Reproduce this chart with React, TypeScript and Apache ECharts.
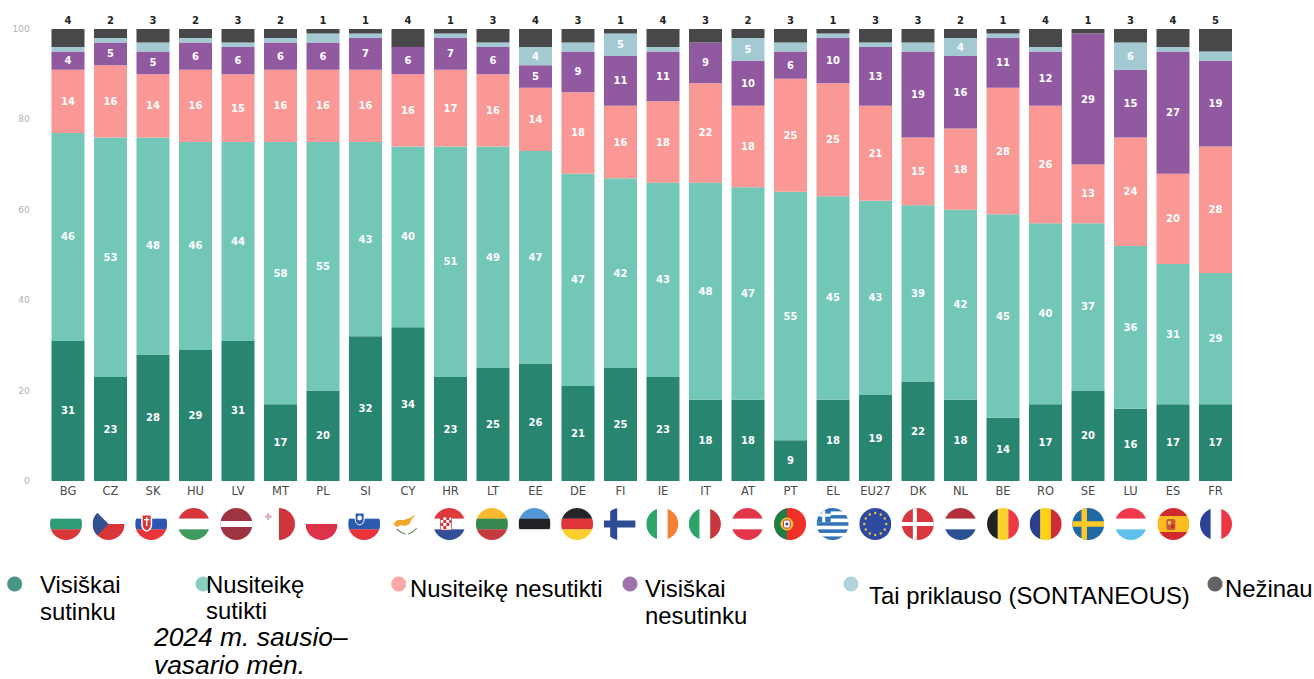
import React, { useEffect, useRef } from "react";
import * as echarts from "echarts";

const categories = ["BG","CZ","SK","HU","LV","MT","PL","SI","CY","HR","LT","EE","DE","FI","IE","IT","AT","PT","EL","EU27","DK","NL","BE","RO","SE","LU","ES","FR"];
const stronglyAgree = [31,23,28,29,31,17,20,32,34,23,25,26,21,25,23,18,18,9,18,19,22,18,14,17,20,16,17,17];
const agree = [46,53,48,46,44,58,55,43,40,51,49,47,47,42,43,48,47,55,45,43,39,42,45,40,37,36,31,29];
const disagree = [14,16,14,16,15,16,16,16,16,17,16,14,18,16,18,22,18,25,25,21,15,18,28,26,13,24,20,28];
const stronglyDisagree = [4,5,5,6,6,6,6,7,6,7,6,5,9,11,11,9,10,6,10,13,19,16,11,12,29,15,27,19];
const depends = [1,1,2,1,1,1,2,1,0,1,1,4,2,5,1,0,5,2,1,1,2,4,1,1,0,6,1,2];
const dontKnow = [4,2,3,2,3,2,1,1,4,1,3,4,3,1,4,3,2,3,1,3,3,2,1,4,1,3,4,5];

const seriesNames = ["Visiškai sutinku","Nusiteikę sutikti","Nusiteikę nesutikti","Visiškai nesutinku","Tai priklauso (SONTANEOUS)","Nežinau"];
const seriesColors = ["#28856f","#73c7b7","#fa9896","#9159a0","#a3cad3","#48484a"];
const yTicks = [0,20,40,60,80,100];

const FONT = "'DejaVu Sans', sans-serif";
const LEGEND_FONT = "'Liberation Sans', Arial, sans-serif";

const h = (...c: string[]) => c.map((col, i) => `<rect x="0" y="${(i * 32) / c.length}" width="32" height="${32 / c.length + 0.2}" fill="${col}"/>`).join("");
const v = (...c: string[]) => c.map((col, i) => `<rect x="${(i * 32) / c.length}" y="0" width="${32 / c.length + 0.2}" height="32" fill="${col}"/>`).join("");
const cross = (bg: string, fg: string, cx: number, w: number) => `<rect width="32" height="32" fill="${bg}"/><rect x="${cx - w / 2}" width="${w}" height="32" fill="${fg}"/><rect y="${16 - w / 2}" width="32" height="${w}" fill="${fg}"/>`;
const euStars = Array.from({ length: 12 }, (_, i) => {
  const a = (i * Math.PI) / 6;
  return `<circle cx="${16 + 11 * Math.cos(a)}" cy="${16 + 11 * Math.sin(a)}" r="1.2" fill="#e8c840"/>`;
}).join("");
const elStripes = Array.from({ length: 9 }, (_, i) => `<rect y="${(i * 32) / 9}" width="32" height="${32 / 9 + 0.1}" fill="${i % 2 ? "#fff" : "#2f74b8"}"/>`).join("");

const flags: Record<string, string> = {
  BG: h("#fff", "#2f9c77", "#d8373a"),
  CZ: `${h("#fff", "#d8373a")}<polygon points="0,0 16,16 0,32" fill="#33508f"/>`,
  SK: `${h("#fff", "#2d56b0", "#e8343a")}<path d="M6 6h11v11q0 5-5.5 7q-5.5-2-5.5-7z" fill="#fff"/><path d="M7.5 7.5h8v9q0 4-4 6q-4-2-4-6z" fill="#d8373a"/><rect x="10.8" y="9" width="1.4" height="9" fill="#fff"/><rect x="9" y="11" width="5" height="1.3" fill="#fff"/>`,
  HU: h("#d4363c", "#fff", "#3f9a60"),
  LV: `<rect width="32" height="32" fill="#9e3342"/><rect y="13" width="32" height="6" fill="#fff"/>`,
  MT: `${v("#fff", "#d0343c")}<rect x="4" y="5" width="2.4" height="7" fill="#d8b4bc"/><rect x="1.7" y="7.3" width="7" height="2.4" fill="#d8b4bc"/>`,
  PL: h("#fff", "#dc3348"),
  SI: `${h("#fff", "#2a5bb0", "#e8343a")}<path d="M7 5h9v6q0 5-4.5 6q-4.5-1-4.5-6z" fill="#2a5bb0" stroke="#fff" stroke-width="1"/><circle cx="11.5" cy="10" r="2.4" fill="#fff"/>`,
  CY: `<rect width="32" height="32" fill="#fff"/><polygon points="3,15 7,12 13,12 19,10 24,7 25,6.5 22,10 20,13 19,16 14,18 10,17 7,19 4,18" fill="#f0a72e"/><path d="M6 21q4 4 9 5M26 20q-4 5-9 6" stroke="#6f8f5a" stroke-width="1.2" fill="none"/>`,
  HR: `${h("#e03a3e", "#fff", "#2f4f98")}<rect x="7" y="9" width="11" height="13" fill="#fff" stroke="#c03030" stroke-width=".6"/><path d="M7 9h3v3H7zM13 9h3v3h-3zM10 12h3v3h-3zM16 12h2v3h-2zM7 15h3v3H7zM13 15h3v3h-3zM10 18h3v3h-3z" fill="#d8343a"/>`,
  LT: h("#fbb92e", "#35874f", "#c43a3e"),
  EE: h("#5296d8", "#222226", "#fff"),
  DE: h("#26262a", "#e03436", "#fccf2c"),
  FI: cross("#fff", "#2c4d94", 10, 7),
  IE: v("#2ea368", "#fff", "#f58234"),
  IT: v("#2ea368", "#fff", "#c8373f"),
  AT: h("#e4354a", "#fff", "#e4354a"),
  PT: `<rect width="32" height="32" fill="#ee3127"/><rect width="12.8" height="32" fill="#1f7d46"/><circle cx="12.8" cy="16" r="6.5" fill="#f0c63a"/><rect x="9.5" y="12" width="6.6" height="8" rx="1.5" fill="#fff" stroke="#d03030"/><circle cx="12.8" cy="16" r="1.5" fill="#2c4d94"/>`,
  EL: `${elStripes}<rect width="14" height="14.2" fill="#2f74b8"/><rect x="5.5" width="3" height="14.2" fill="#fff"/><rect y="5.6" width="14" height="3" fill="#fff"/>`,
  EU27: `<rect width="32" height="32" fill="#2e49a0"/>${euStars}`,
  DK: cross("#d8373f", "#fff", 13, 4),
  NL: h("#b32f3c", "#fff", "#2c5193"),
  BE: v("#222226", "#f9d22d", "#ee3a43"),
  RO: v("#2c3f8f", "#fcd116", "#ce2d36"),
  SE: cross("#1f6aa5", "#fbc82a", 12, 5.5),
  LU: h("#ee3a4c", "#fff", "#5fc0ec"),
  ES: `${h("#cf2b2f", "#fabd1f", "#fabd1f", "#cf2b2f")}<rect x="9" y="11" width="9" height="11" rx="2" fill="#c95a35"/><rect x="10.5" y="13" width="3" height="3.5" fill="#e8c060"/><rect x="14" y="16.5" width="2.5" height="3.5" fill="#b03030"/>`,
  FR: v("#2c4393", "#fff", "#ee3445"),
};

const flagUri = (code: string) =>
  "data:image/svg+xml," +
  encodeURIComponent(
    `<svg xmlns="http://www.w3.org/2000/svg" width="32" height="32" viewBox="0 0 32 32"><defs><clipPath id="c"><circle cx="16" cy="16" r="16"/></clipPath></defs><g clip-path="url(#c)">${flags[code]}</g></svg>`
  );

const legendItems = [
  { cx: 14.7, text: "Visiškai\nsutinku", x: 40, y: 571, lh: 27 },
  { cx: 203, text: "Nusiteikę\nsutikti", x: 206, y: 572, lh: 25.5 },
  { cx: 398.7, text: "Nusiteikę nesutikti", x: 410, y: 575, lh: 27 },
  { cx: 630, text: "Visiškai\nnesutinku", x: 645, y: 575, lh: 27 },
  { cx: 851, text: "Tai priklauso (SONTANEOUS)", x: 869, y: 582, lh: 27 },
  { cx: 1215, text: "Nežinau", x: 1225, y: 575, lh: 27 },
];
const noteText = "2024 m. sausio–\nvasario mėn.";

export default function App() {
  const ref = useRef<HTMLDivElement>(null);
  useEffect(() => {
    const chart = echarts.init(ref.current!, undefined, { renderer: "svg" });
    const values = [stronglyAgree, agree, disagree, stronglyDisagree, depends, dontKnow];
    chart.setOption({
      animation: false,
      backgroundColor: "#fff",
      grid: [
        { left: 46.75, top: 29, width: 1190, height: 452 },
        { left: 44.7, top: 508, width: 1192.6, height: 32 },
      ],
      xAxis: [
        {
          type: "category",
          data: categories,
          gridIndex: 0,
          axisLine: { show: false },
          axisTick: { show: false },
          axisLabel: { fontFamily: FONT, fontSize: 11.5, color: "#4a4a4a", margin: 4, interval: 0 },
        },
        { type: "category", data: categories, gridIndex: 1, show: false },
      ],
      yAxis: [
        {
          type: "value",
          min: 0,
          max: 100,
          interval: 20,
          gridIndex: 0,
          axisLine: { show: false },
          axisTick: { show: false },
          splitLine: { show: false },
          axisLabel: { fontFamily: FONT, fontSize: 9, color: "#b8b2aa", margin: 17, customValues: yTicks },
        },
        { type: "value", min: 0, max: 1, gridIndex: 1, show: false },
      ],
      series: [
        ...seriesNames.map((name, i) => ({
          name,
          type: "bar",
          stack: "total",
          barWidth: 33,
          data: values[i],
          itemStyle: { color: seriesColors[i] },
          label:
            i === 5
              ? { show: true, position: "top", distance: 4, fontFamily: FONT, fontSize: 10, fontWeight: "bold", color: "#222" }
              : {
                  show: true,
                  position: "inside",
                  fontFamily: FONT,
                  fontSize: 10,
                  fontWeight: "bold",
                  color: "#fff",
                  formatter: (p: any) => (p.value >= 4 ? String(p.value) : ""),
                },
        })),
        {
          type: "custom",
          xAxisIndex: 1,
          yAxisIndex: 1,
          silent: true,
          clip: false,
          data: categories.map((_, i) => [i, 0.5]),
          encode: { x: 0, y: 1 },
          renderItem: (_: any, api: any) => {
            const c = api.coord([api.value(0), api.value(1)]);
            const s = api.size([0, 1])[1];
            return {
              type: "image",
              style: { image: flagUri(categories[api.value(0)]), x: c[0] - s / 2, y: c[1] - s / 2, width: s, height: s },
            };
          },
        },
      ],
      graphic: [
        ...legendItems.map((d, i) => ({
          type: "circle",
          shape: { cx: d.cx, cy: 584, r: 7.5 },
          style: { fill: seriesColors[i], opacity: 0.85 },
          z: 1,
        })),
        ...legendItems.map((d) => ({
          type: "text",
          x: d.x,
          y: d.y,
          z: 2,
          style: { text: d.text, font: `23.9px ${LEGEND_FONT}`, lineHeight: d.lh, fill: "#000" },
        })),
        {
          type: "text",
          x: 154,
          y: 623,
          z: 2,
          style: { text: noteText, font: `italic 26.4px ${LEGEND_FONT}`, lineHeight: 28, fill: "#000" },
        },
      ],
    });
    return () => chart.dispose();
  }, []);
  return <div ref={ref} style={{ position: "fixed", left: 0, top: 0, width: 1314, height: 679 }} />;
}
